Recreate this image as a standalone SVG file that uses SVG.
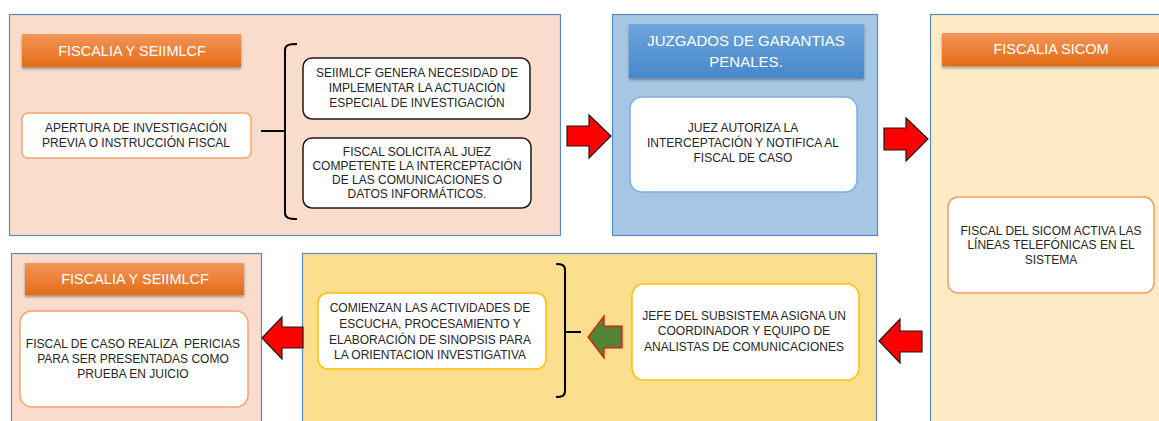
<svg xmlns="http://www.w3.org/2000/svg" width="1159" height="421" viewBox="0 0 1159 421">
<defs>
<linearGradient id="gOr" x1="0" y1="0" x2="0" y2="1">
<stop offset="0" stop-color="#F3965A"/><stop offset="1" stop-color="#E36C15"/>
</linearGradient>
<linearGradient id="gBl" x1="0" y1="0" x2="0" y2="1">
<stop offset="0" stop-color="#6EA6DC"/><stop offset="1" stop-color="#4788CA"/>
</linearGradient>
<filter id="sh" x="-10%" y="-20%" width="120%" height="160%">
<feDropShadow dx="0" dy="2" stdDeviation="1.5" flood-color="#000" flood-opacity="0.35"/>
</filter>
</defs>
<style>
.panel{stroke:#5A89C0;stroke-width:1.2}
.hdr{filter:url(#sh)}
.hor{fill:url(#gOr)}
.hbl{fill:url(#gBl)}
.ht{font-family:"Liberation Sans",Arial,sans-serif;fill:#fff;text-anchor:middle}
.box{fill:#fff;stroke-width:1.5}
.t{font-family:"Liberation Sans",Arial,sans-serif;font-size:12px;fill:#262626;text-anchor:middle}
.red{fill:#FF0000;stroke:#1a1a1a;stroke-width:1.2}
.grn{fill:#548235;stroke:#FF0000;stroke-width:1.2}
.brace{fill:none;stroke:#000;stroke-width:2}
</style>
<rect width="1159" height="421" fill="#fff"/>

<g id="panel-fiscalia1">
<rect class="panel" x="9.5" y="14.5" width="551" height="221" fill="#F9DCCB"/>
<rect class="hdr hor" x="22" y="34" width="219" height="33"/>
<text class="ht" x="132" y="56" font-size="14.5">FISCALIA Y SEIIMLCF</text>
</g>
<g id="node-apertura">
<rect class="box" x="22" y="113" width="229" height="45" rx="6" stroke="#F4A46C"/>
<text class="t" x="136" y="132">APERTURA DE INVESTIGACIÓN</text>
<text class="t" x="136" y="147">PREVIA O INSTRUCCIÓN FISCAL</text>
</g>
<g id="node-seiimlcf">
<rect class="box" x="303" y="58" width="227" height="61" rx="9" stroke="#1a1a1a"/>
<text class="t" x="417" y="77">SEIIMLCF GENERA NECESIDAD DE</text>
<text class="t" x="417" y="92">IMPLEMENTAR LA ACTUACIÓN</text>
<text class="t" x="417" y="107">ESPECIAL DE INVESTIGACIÓN</text>
</g>
<g id="node-solicita">
<rect class="box" x="303" y="138" width="228" height="70" rx="9" stroke="#1a1a1a"/>
<text class="t" x="417" y="156">FISCAL SOLICITA AL JUEZ</text>
<text class="t" x="417" y="170">COMPETENTE LA INTERCEPTACIÓN</text>
<text class="t" x="417" y="184">DE LAS COMUNICACIONES O</text>
<text class="t" x="417" y="198">DATOS INFORMÁTICOS.</text>
</g>

<g id="panel-juzgados">
<rect class="panel" x="612.5" y="14.5" width="265" height="221" fill="#A7C6E4"/>
<rect class="hdr hbl" x="629" y="24" width="235" height="54"/>
<text class="ht" x="746" y="46" font-size="15">JUZGADOS DE GARANTIAS</text>
<text class="ht" x="746" y="67" font-size="15">PENALES.</text>
</g>
<g id="node-juez">
<rect class="box" x="630" y="97" width="227" height="95" rx="12" stroke="#7DAEE0"/>
<text class="t" x="743" y="132">JUEZ AUTORIZA LA</text>
<text class="t" x="743" y="147">INTERCEPTACIÓN Y NOTIFICA AL</text>
<text class="t" x="743" y="162">FISCAL DE CASO</text>
</g>

<g id="panel-sicom">
<rect class="panel" x="930.5" y="14.5" width="240" height="420" fill="#FDEBC6"/>
<rect class="hdr hor" x="942" y="33" width="225" height="33"/>
<text class="ht" x="1051" y="54" font-size="14.5">FISCALIA SICOM</text>
</g>
<g id="node-sicom">
<rect class="box" x="948" y="197" width="206" height="96" rx="10" stroke="#F29C5E"/>
<text class="t" x="1051" y="235">FISCAL DEL SICOM ACTIVA LAS</text>
<text class="t" x="1051" y="249">LÍNEAS TELEFÓNICAS EN EL</text>
<text class="t" x="1051" y="264">SISTEMA</text>
</g>

<g id="panel-analisis">
<rect class="panel" x="302.5" y="253.5" width="574" height="180" fill="#FBDF8F"/>
</g>
<g id="node-jefe">
<rect class="box" x="632" y="284" width="227" height="96" rx="12" stroke="#FFC000"/>
<text class="t" x="744" y="320">JEFE DEL SUBSISTEMA ASIGNA UN</text>
<text class="t" x="744" y="335">COORDINADOR Y EQUIPO DE</text>
<text class="t" x="744" y="351">ANALISTAS DE COMUNICACIONES</text>
</g>
<g id="node-comienzan">
<rect class="box" x="318" y="293" width="228" height="76" rx="10" stroke="#FFC000"/>
<text class="t" x="430" y="312">COMIENZAN LAS ACTIVIDADES DE</text>
<text class="t" x="430" y="328">ESCUCHA, PROCESAMIENTO Y</text>
<text class="t" x="430" y="344">ELABORACIÓN DE SINOPSIS PARA</text>
<text class="t" x="430" y="359">LA ORIENTACION INVESTIGATIVA</text>
</g>

<g id="panel-fiscalia2">
<rect class="panel" x="11.5" y="253.5" width="250" height="180" fill="#F9DCCB"/>
<rect class="hdr hor" x="25" y="263" width="219" height="32"/>
<text class="ht" x="135" y="284" font-size="14.5">FISCALIA Y SEIIMLCF</text>
</g>
<g id="node-caso">
<rect class="box" x="20" y="311" width="228" height="96" rx="12" stroke="#F4A46C"/>
<text class="t" x="133" y="348" xml:space="preserve">FISCAL DE CASO REALIZA  PERICIAS</text>
<text class="t" x="133" y="363">PARA SER PRESENTADAS COMO</text>
<text class="t" x="133" y="378">PRUEBA EN JUICIO</text>
</g>

<g id="connectors">
<path class="brace" d="M261,131 L285,131 M297,44 C289,44 285,45 285,50 L285,213 C285,218 289,219 297,219"/>
<path class="brace" d="M581,332 L565,332 M556,264 C562,264 565,265 565,270 L565,391 C565,396 562,397 556,397"/>
<polygon class="red" points="567,126 589,126 589,115 611,136 589,158 589,146 567,146"/>
<polygon class="red" points="884,128 906,128 906,118 928,139 906,161 906,150 884,150"/>
<polygon class="red" points="879,341 900,319 900,331 922,331 922,352 900,352 900,363"/>
<polygon class="grn" points="588,337 604,316 604,326 622,326 622,348 604,348 604,358"/>
<polygon class="red" points="262,338 282,317 282,327 303,327 303,348 282,348 282,359"/>
</g>
</svg>
